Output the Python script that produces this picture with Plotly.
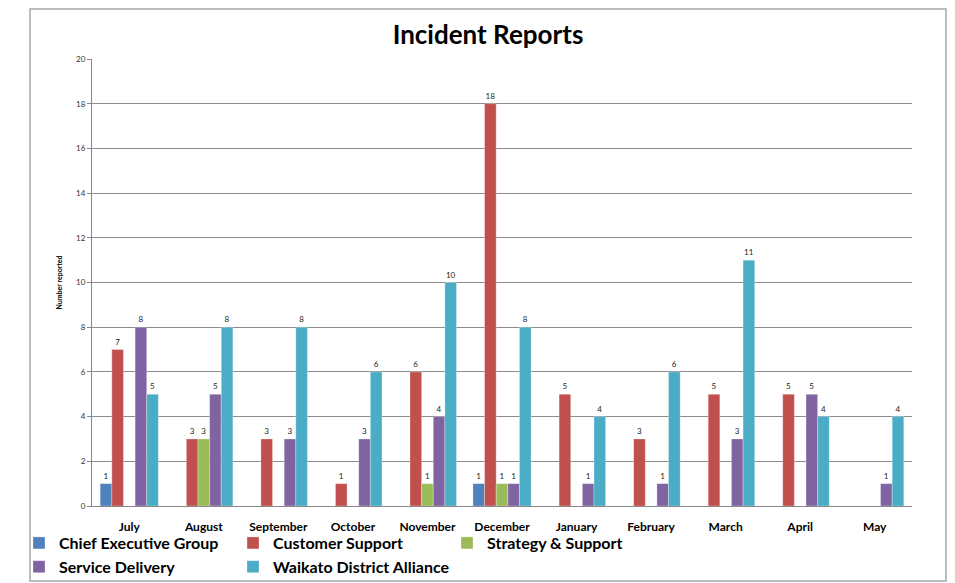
import plotly.graph_objects as go

months = ["July", "August", "September", "October", "November", "December",
          "January", "February", "March", "April", "May"]

chief_executive_group = [1, None, None, None, None, 1, None, None, None, None, None]
customer_support = [7, 3, 3, 1, 6, 18, 5, 3, 5, 5, None]
strategy_support = [None, 3, None, None, 1, 1, None, None, None, None, None]
service_delivery = [8, 5, 3, 3, 4, 1, 1, 1, 3, 5, 1]
waikato_district_alliance = [5, 8, 8, 6, 10, 8, 4, 6, 11, 4, 4]

series = [
    ("Chief Executive Group", chief_executive_group, "#4F81BD"),
    ("Customer Support", customer_support, "#C0504D"),
    ("Strategy & Support", strategy_support, "#9BBB59"),
    ("Service Delivery", service_delivery, "#8064A2"),
    ("Waikato District Alliance", waikato_district_alliance, "#4BACC6"),
]

fig = go.Figure()
for name, vals, color in series:
    fig.add_trace(go.Bar(
        x=months, y=vals, name="<b>" + name.replace("&", "&amp;") + "</b>",
        marker=dict(color=color, line=dict(color="rgba(255,255,255,0.6)", width=0.5)),
        text=[("" if v is None else str(v)) for v in vals],
        textposition="outside",
        textfont=dict(size=8, color="#222", family="Lato, sans-serif"),
        cliponaxis=False,
    ))

fig.update_layout(
    width=955, height=583,
    margin=dict(l=92, r=43, t=59, b=77, autoexpand=False),
    paper_bgcolor="white", plot_bgcolor="white",
    barmode="group", bargap=0.22, bargroupgap=0,
    font=dict(family="Lato, sans-serif", color="#000"),
    title=dict(text="<b>Incident Reports</b>", x=0.511, xanchor="center",
               y=1 - 35 / 583, yanchor="middle",
               font=dict(size=26, family="Lato, sans-serif", color="#000")),
    showlegend=True,
    legend=dict(orientation="h", xref="container", yref="container",
                x=19 / 955, xanchor="left", y=1 - 526 / 583, yanchor="top",
                entrywidth=169, entrywidthmode="pixels",
                font=dict(size=16, family="Lato, sans-serif", color="#000"),
                itemwidth=30, tracegroupgap=0,
                bgcolor="rgba(0,0,0,0)"),
)

fig.update_xaxes(
    showgrid=False, showline=True, linecolor="#888", linewidth=1,
    ticks="", ticklabelstandoff=10,
    tickfont=dict(size=12, family="Lato, sans-serif", color="#000"),
    tickprefix="<b>", ticksuffix="</b>",
)
fig.update_yaxes(
    range=[0, 20], dtick=2, showgrid=True, gridcolor="#8c8c8c", gridwidth=1,
    showline=True, linecolor="#888", linewidth=1,
    ticks="outside", ticklen=4, tickcolor="#888",
    tickfont=dict(size=8, color="#333"), zeroline=False,
    title=dict(text="<b>Number reported</b>", font=dict(size=7, color="#000"), standoff=12),
)

# outer chart frame
fig.add_shape(type="rect", xref="paper", yref="paper",
              x0=(30 - 92) / 820, x1=(946 - 92) / 820,
              y0=(506 - 581) / 447, y1=(506 - 9) / 447,
              line=dict(color="#a6a6a6", width=1.5), layer="below")

fig.write_html("out.html")
